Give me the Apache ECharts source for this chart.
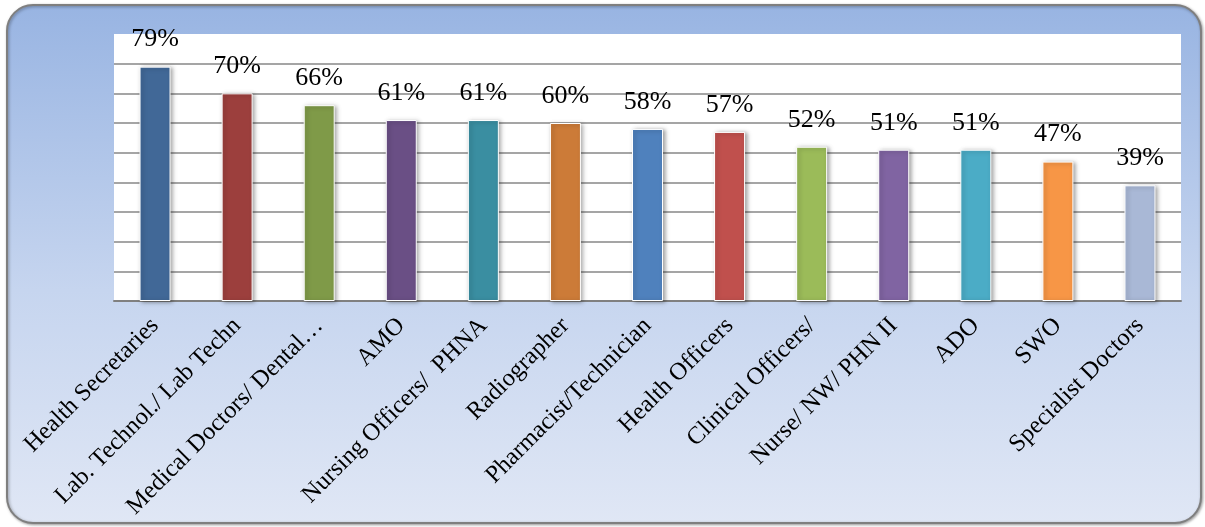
<!DOCTYPE html>
<html>
<head>
<meta charset="utf-8">
<script src="https://cdn.jsdelivr.net/npm/echarts@6/dist/echarts.min.js"></script>
<style>
html,body{margin:0;padding:0;background:#ffffff;}
#chart{width:1205px;height:527px;}
</style>
</head>
<body>
<div id="chart"></div>
<script>
const categories = [
  "Health Secretaries",
  "Lab. Technol./ Lab Techn",
  "Medical Doctors/ Dental\u2026",
  "AMO",
  "Nursing Officers/  PHNA",
  "Radiographer",
  "Pharmacist/Technician",
  "Health Officers",
  "Clinical Officers/",
  "Nurse/ NW/ PHN II",
  "ADO",
  "SWO",
  "Specialist Doctors"
];
const values = [79, 70, 66, 61, 61, 60, 58, 57, 52, 51, 51, 47, 39];
const barColors = [
  "#416897", "#9c3f3d", "#7f9a48", "#6a4f85", "#3a8ea1", "#cc7b38", "#4f81bd",
  "#c0504d", "#9bbb59", "#8064a2", "#4bacc6", "#f79646", "#a9b8d6"
];
const yMin = 0, yMax = 90, yStep = 10;

const chart = echarts.init(document.getElementById('chart'), null, {renderer: 'canvas'});

const gridColors = [];
for (let v = yMin; v <= yMax; v += yStep) {
  gridColors.push(v === yMax ? 'rgba(0,0,0,0)' : '#878787');
}

chart.setOption({
  animation: false,
  graphic: [{
    type: 'rect',
    z: -10,
    silent: true,
    shape: {x: 7, y: 5, width: 1194, height: 518, r: 26},
    style: {
      fill: new echarts.graphic.LinearGradient(0, 0, 0, 1, [
        {offset: 0, color: '#98b4e2'},
        {offset: 0.55, color: '#c6d5ef'},
        {offset: 1, color: '#e0e7f5'}
      ]),
      stroke: '#7f7f7f',
      lineWidth: 2,
      shadowBlur: 3,
      shadowColor: 'rgba(0,0,0,0.35)',
      shadowOffsetX: 1,
      shadowOffsetY: 1
    }
  }],
  grid: {
    left: 114, top: 34, width: 1067, height: 267,
    show: true, backgroundColor: '#ffffff', borderWidth: 0
  },
  xAxis: {
    type: 'category',
    data: categories,
    axisLine: {show: true, lineStyle: {color: '#808080', width: 2}},
    axisTick: {show: false},
    axisLabel: {
      interval: 0,
      rotate: 45,
      margin: 21,
      fontFamily: 'Liberation Serif',
      fontSize: 24.5,
      color: '#000000'
    }
  },
  yAxis: {
    type: 'value',
    min: yMin, max: yMax, interval: yStep,
    axisLabel: {show: false},
    axisLine: {show: false},
    axisTick: {show: false},
    splitLine: {show: true, lineStyle: {color: gridColors, width: 1.5}}
  },
  series: [{
    type: 'bar',
    data: values.map((v, i) => ({value: v, itemStyle: {color: barColors[i]}})),
    barWidth: 31,
    itemStyle: {
      borderColor: '#ffffff',
      borderWidth: 1,
      shadowBlur: 4,
      shadowColor: 'rgba(0,0,0,0.35)',
      shadowOffsetX: 2,
      shadowOffsetY: 1
    },
    label: {
      show: true,
      position: 'top',
      distance: 14,
      formatter: '{c}%',
      fontFamily: 'Liberation Serif',
      fontSize: 26,
      color: '#000000'
    }
  }]
});
</script>
</body>
</html>
